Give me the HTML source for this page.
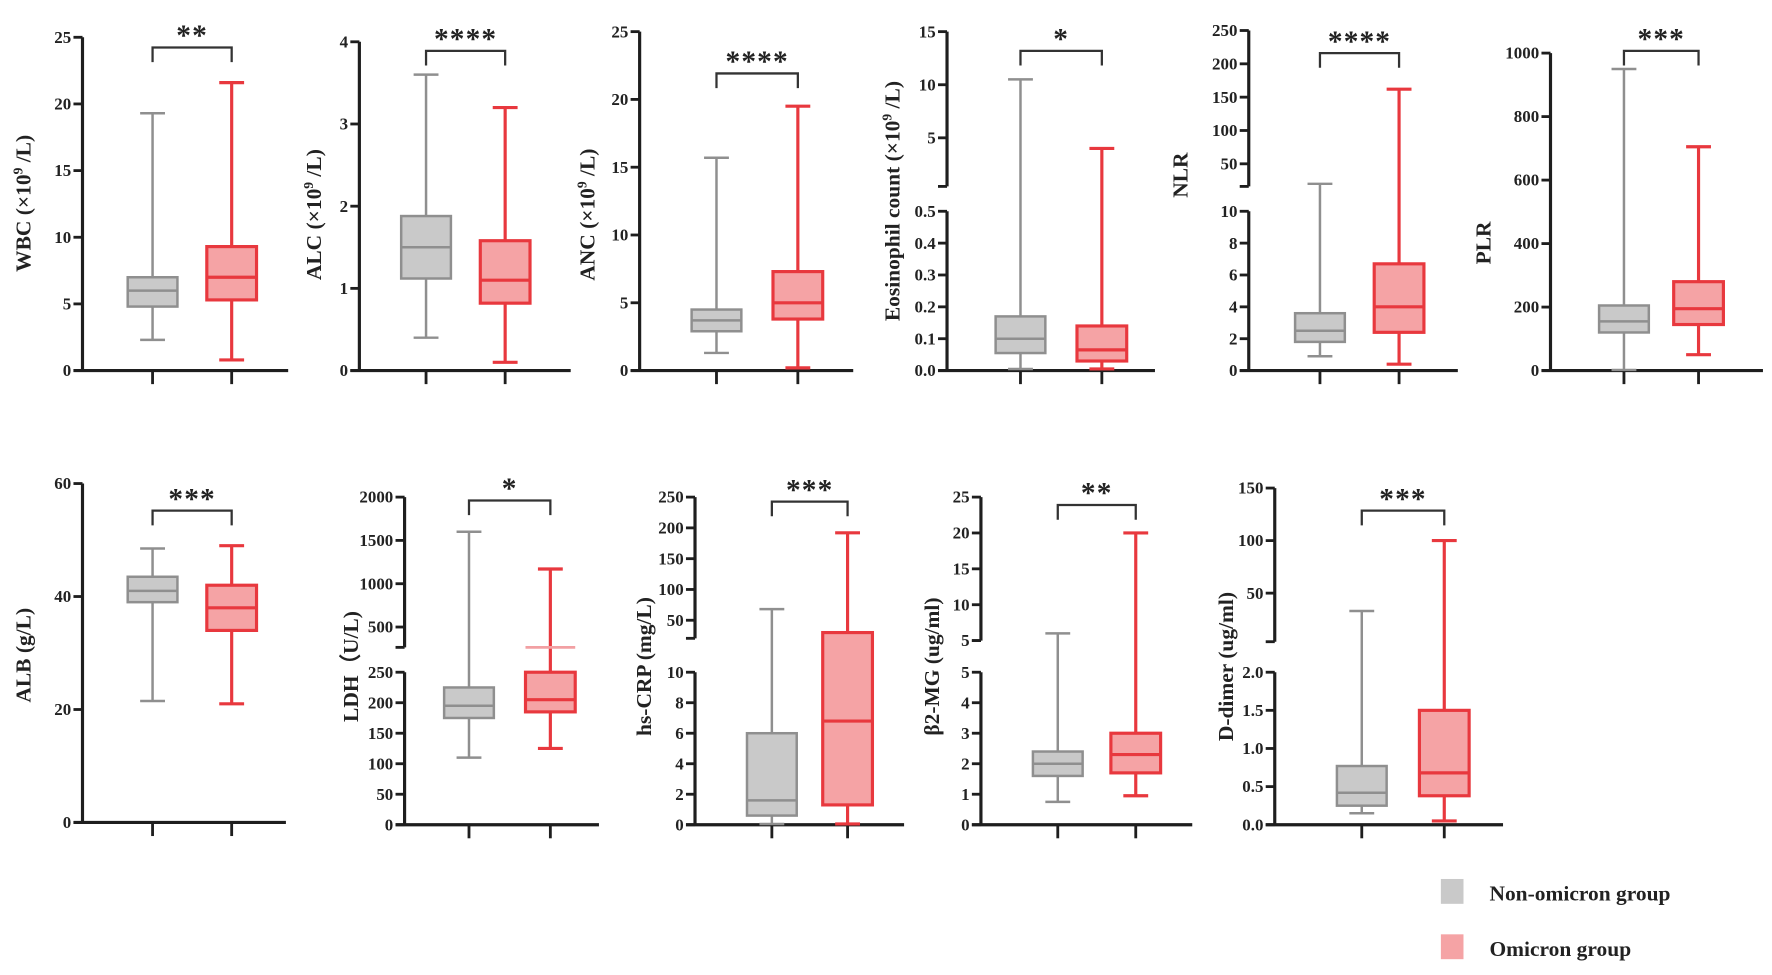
<!DOCTYPE html>
<html><head><meta charset="utf-8"><style>
html,body{margin:0;padding:0;background:#fff;}
svg{display:block;}
text{font-family:"Liberation Serif",serif;font-weight:bold;fill:#222;}
</style></head><body>
<svg id="s" width="1772" height="975" viewBox="0 0 1568 863" preserveAspectRatio="none" xmlns="http://www.w3.org/2000/svg"></svg>
<script>
const S=document.getElementById('s');const NS='http://www.w3.org/2000/svg';
function el(t,a,txt,p){const e=document.createElementNS(NS,t);for(const k in a)e.setAttribute(k,a[k]);if(txt!=null)e.textContent=txt;(p||S).appendChild(e);return e;}
function lin(s,v){return s.y0+(v-s.v0)*(s.y1-s.y0)/(s.v1-s.v0);}
const panels=[
{ax:73,xe:255,c:[135,205],b:328,L:{v0:0,y0:328,v1:25,y1:33,top:33,vmax:25,t:[0,5,10,15,20,25]},
 g:[2.3,4.8,6,7,19.3],r:[0.8,5.3,7,9.3,21.6],br:42,st:'**',lab:['WBC (×10','9',' /L)'],lx:27,ly:180},
{ax:318,xe:505,c:[377,447],b:328,L:{v0:0,y0:328,v1:4,y1:37,top:37,vmax:4,t:[0,1,2,3,4]},
 g:[0.4,1.12,1.5,1.88,3.6],r:[0.1,0.82,1.1,1.58,3.2],br:45,st:'****',lab:['ALC (×10','9',' /L)'],lx:284,ly:190},
{ax:566,xe:755,c:[634,706],b:328,L:{v0:0,y0:328,v1:25,y1:28,top:28,vmax:25,t:[0,5,10,15,20,25]},
 g:[1.3,2.9,3.7,4.5,15.7],r:[0.2,3.8,5,7.3,19.5],br:65,st:'****',lab:['ANC (×10','9',' /L)'],lx:526,ly:190},
{ax:838,xe:1022,c:[903,975],b:328,L:{v0:0,y0:328,v1:0.5,y1:187,top:187,vmax:0.5,t:[0,0.1,0.2,0.3,0.4,0.5],f:1},
 U:{v0:5,y0:122,v1:15,y1:28,top:28,bot:165,t:[5,10,15]},
 g:[0.005,0.055,0.1,0.17,10.5],r:[0.005,0.03,0.065,0.14,4],br:45,st:'*',lab:['Eosinophil count (×10','9',' /L)'],lx:796,ly:178},
{ax:1105,xe:1290,c:[1168,1238],b:328,L:{v0:0,y0:328,v1:10,y1:187,top:187,vmax:10,t:[0,2,4,6,8,10]},
 U:{v0:50,y0:145,v1:250,y1:27,top:27,bot:165,t:[50,100,150,200,250]},
 g:[0.9,1.8,2.5,3.6,20],r:[0.4,2.4,4,6.7,162],br:47,st:'****',lab:['NLR'],lx:1051,ly:155},
{ax:1372,xe:1560,c:[1437,1503],b:328,L:{v0:0,y0:328,v1:1000,y1:47,top:47,vmax:1000,t:[0,200,400,600,800,1000]},
 g:[2,120,155,205,950],r:[50,145,195,280,705],br:45,st:'***',lab:['PLR'],lx:1319,ly:215},
{ax:73,xe:253,c:[135,205],b:728,L:{v0:0,y0:728,v1:60,y1:428,top:428,vmax:60,t:[0,20,40,60]},
 g:[21.5,39,41,43.5,48.5],r:[21,34,38,42,49],br:452,st:'***',lab:['ALB (g/L)'],lx:27,ly:580},
{ax:358,xe:530,c:[415,487],b:730,L:{v0:0,y0:730,v1:250,y1:595,top:595,vmax:250,t:[0,50,100,150,200,250]},
 U:{v0:500,y0:555,v1:2000,y1:440,top:440,bot:573,t:[500,1000,1500,2000]},
 g:[110,175,195,225,1600],r:[125,185,205,250,1170],br:443,st:'*',lab:['LDH（U/L)'],lx:317,ly:590,extra:[487,573]},
{ax:615,xe:800,c:[683,750],b:730,L:{v0:0,y0:730,v1:10,y1:595,top:595,vmax:10,t:[0,2,4,6,8,10]},
 U:{v0:50,y0:549,v1:250,y1:440,top:440,bot:565,t:[50,100,150,200,250]},
 g:[0.05,0.6,1.6,6,68],r:[0.05,1.3,6.8,30,192],br:444,st:'***',lab:['hs-CRP (mg/L)'],lx:576,ly:590},
{ax:868,xe:1055,c:[936,1005],b:730,L:{v0:0,y0:730,v1:5,y1:595,top:595,vmax:5,t:[0,1,2,3,4,5]},
 U:{v0:5,y0:567,v1:25,y1:440,top:440,bot:567,t:[5,10,15,20,25]},
 g:[0.75,1.6,2,2.4,6],r:[0.95,1.7,2.3,3,20],br:447,st:'**',lab:['β2-MG (ug/ml)'],lx:831,ly:590},
{ax:1128,xe:1330,c:[1205,1278],b:730,L:{v0:0,y0:730,v1:2,y1:595,top:595,vmax:2,t:[0,0.5,1,1.5,2],f:1},
 U:{v0:50,y0:525,v1:150,y1:432,top:432,bot:568,t:[50,100,150]},
 g:[0.15,0.25,0.42,0.77,33],r:[0.05,0.38,0.68,1.5,100],br:452,st:'***',lab:['D-dimer (ug/ml)'],lx:1091,ly:590}
];
const AX='#1e1e1e';
panels.forEach(p=>{
 const map=v=>(!p.U||v<=p.L.vmax)?lin(p.L,v):lin(p.U,v);
 el('line',{x1:p.ax,y1:p.b,x2:p.ax,y2:p.L.top,stroke:AX,'stroke-width':2.8});
 el('line',{x1:p.ax-8,y1:p.b,x2:p.xe,y2:p.b,stroke:AX,'stroke-width':2.8});
 p.L.t.forEach(v=>{const y=lin(p.L,v);el('line',{x1:p.ax-8,y1:y,x2:p.ax,y2:y,stroke:AX,'stroke-width':2.5});
  el('text',{x:p.ax-10,y:y+5,'text-anchor':'end','font-size':15},p.L.f?v.toFixed(1):String(v));});
 if(p.U){el('line',{x1:p.ax,y1:p.U.bot,x2:p.ax,y2:p.U.top,stroke:AX,'stroke-width':2.8});
  el('line',{x1:p.ax-8,y1:p.U.bot,x2:p.ax,y2:p.U.bot,stroke:AX,'stroke-width':2.5});
  p.U.t.forEach(v=>{const y=lin(p.U,v);el('line',{x1:p.ax-8,y1:y,x2:p.ax,y2:y,stroke:AX,'stroke-width':2.5});
  el('text',{x:p.ax-10,y:y+5,'text-anchor':'end','font-size':15},String(v));});}
 p.c.forEach(cx=>el('line',{x1:cx,y1:p.b,x2:cx,y2:p.b+12,stroke:AX,'stroke-width':2.5}));
 [[p.g,'#c9c9c9','#8f8f8f',2.2],[p.r,'#f5a3a5','#e8383e',2.8]].forEach((d,i)=>{
  const cx=p.c[i],a=d[0].map(map),hw=22,cw=11;
  el('line',{x1:cx,y1:a[0],x2:cx,y2:a[4],stroke:d[2],'stroke-width':d[3]});
  el('line',{x1:cx-cw,y1:a[0],x2:cx+cw,y2:a[0],stroke:d[2],'stroke-width':d[3]});
  el('line',{x1:cx-cw,y1:a[4],x2:cx+cw,y2:a[4],stroke:d[2],'stroke-width':d[3]});
  el('rect',{x:cx-hw,y:a[3],width:2*hw,height:a[1]-a[3],fill:d[1],stroke:d[2],'stroke-width':d[3]});
  el('line',{x1:cx-hw,y1:a[2],x2:cx+hw,y2:a[2],stroke:d[2],'stroke-width':d[3]});
 });
 if(p.extra)el('line',{x1:p.extra[0]-22,y1:p.extra[1],x2:p.extra[0]+22,y2:p.extra[1],stroke:'#f2a0a3','stroke-width':2.5});
 const c1=p.c[0],c2=p.c[1];
 el('polyline',{points:`${c1},${p.br+13} ${c1},${p.br} ${c2},${p.br} ${c2},${p.br+13}`,fill:'none',stroke:'#333','stroke-width':2});
 el('text',{x:(c1+c2)/2,y:p.br-2,'text-anchor':'middle','font-size':26,'letter-spacing':1},p.st);
 const t=el('text',{x:0,y:0,'text-anchor':'middle','font-size':19,transform:`translate(${p.lx},${p.ly}) rotate(-90)`});
 el('tspan',{},p.lab[0],t);
 if(p.lab.length>1){el('tspan',{dy:-7,'font-size':12},p.lab[1],t);el('tspan',{dy:7},p.lab[2],t);}
});
el('rect',{x:1275,y:778,width:20,height:22,fill:'#c9c9c9'});
el('text',{x:1318,y:797,'font-size':19},'Non-omicron group');
el('rect',{x:1275,y:827,width:20,height:22,fill:'#f5a3a5'});
el('text',{x:1318,y:846,'font-size':19},'Omicron group');
</script>
</body></html>
